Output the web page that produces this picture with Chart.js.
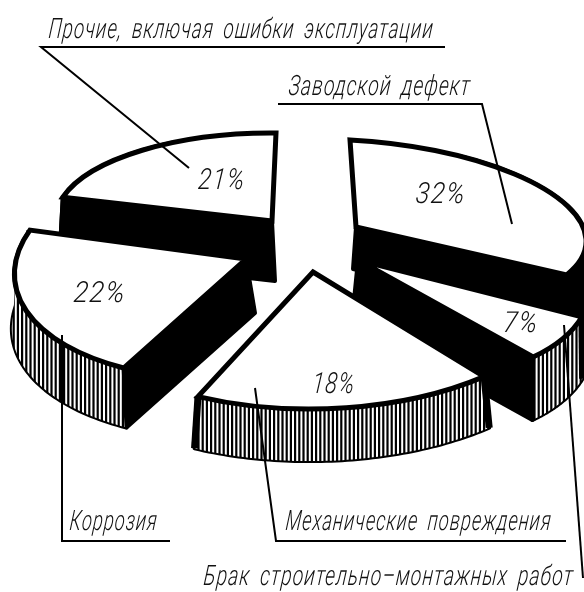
<!DOCTYPE html>
<html>
<head>
<meta charset="utf-8">
<title>Причины отказов</title>
<script src="https://cdn.jsdelivr.net/npm/chart.js@4"></script>
<style>
html,body{margin:0;padding:0;background:#fff}
canvas{display:block}
</style>
</head>
<body>
<canvas id="pie" width="584" height="592"></canvas>
<script>
const categories = ['Заводской дефект','Брак строительно–монтажных работ','Механические повреждения','Коррозия','Прочие, включая ошибки эксплуатации']
const shares = [32,7,18,22,21]
// back to front
const drawOrder = [4,0,1,3,2]

// each slice is pulled away from the centre and has its own tilt, as on a drawing in perspective
// a,b,c,d map the flat circle to the sheet (radius 1), wall = how the lower face sits under the top one
const sliceViews = [
  { ox:64,  oy:-69, a:230, b:12,   c:6,    d:87,  wallX:-3, wallY:42, grow:1.06, striped:false },
  { ox:66,  oy:-36, a:230, b:6,    c:37,   d:121, wallX:-6, wallY:60, grow:1.03, striped:true },
  { ox:21,  oy:-24, a:269, b:-1.5, c:-0.5, d:137, wallX:0,  wallY:48, grow:1.03, striped:true },
  { ox:-46, oy:-37, a:230, b:-1,   c:-27,  d:120, wallX:9,  wallY:54, grow:1.05, striped:true },
  { ox:-20, oy:-75, a:217, b:2,    c:-4,   d:88,  wallX:3,  wallY:60, grow:1.03, striped:false }
]
const percentSpots = [
  { x:440, y:203, w:50 }, { x:520, y:332, w:35 }, { x:333, y:393, w:43 }, { x:99, y:302, w:52 }, { x:221, y:189, w:47 }
]
// [text index, left, baseline, width]
const captions = [
  [4,48,38,385],[0,288,95,182],[3,69,530,88],[2,285,530,266],[1,203,585,370]
]
const leaders = [
  [[445,47],[41,47],[189,168]],
  [[278,104],[482,104],[512,224]],
  [[62,335],[62,541],[170,541]],
  [[255,388],[276,541],[566,541]],
  [[564,325],[583,578]]
]

function stripes(){
  const c = document.createElement('canvas')
  c.width = 21; c.height = 4
  const x = c.getContext('2d')
  x.fillStyle = '#fff'; x.fillRect(0,0,21,4)
  x.fillStyle = '#000'
  for(let n=0;n<5;n++) x.fillRect(n*4.2,0,2.2,4)
  return c
}

function mapper(arc, v, lower){
  const k = lower ? v.grow : 1
  const cx = arc.x+v.ox+(lower ? v.wallX : 0)
  const cy = arc.y+v.oy+(lower ? v.wallY : 0)
  const R = arc.outerRadius
  return (ang,r=R)=>{
    const u = Math.cos(ang)*r/R, w = Math.sin(ang)*r/R
    return [cx+k*(v.a*u+v.c*w), cy+k*(v.b*u+v.d*w)]
  }
}

function placeCtx(ctx, arc, v){
  const R = arc.outerRadius
  ctx.translate(arc.x+v.ox, arc.y+v.oy)
  ctx.transform(v.a/R, v.b/R, v.c/R, v.d/R, 0, 0)
  ctx.translate(-arc.x, -arc.y)
}

function nearVertical(top, ang){
  return Math.abs(top(ang)[0]-top(ang,0)[0]) < 30
}

// a cut face shows only if the slice lies above its edge on the sheet
function cutFaceShows(top, ang, midAng){
  const o = top(ang,0), p = top(ang), m = top(midAng)
  if(nearVertical(top,ang)) return false
  const lineY = o[1]+(p[1]-o[1])*(m[0]-o[0])/(p[0]-o[0])
  return m[1] < lineY
}

function bandPath(ctx, top, low, from, to){
  const steps = 60
  ctx.beginPath()
  for(let n=0;n<=steps;n++){ const p = top(from+(to-from)*n/steps); n ? ctx.lineTo(...p) : ctx.moveTo(...p) }
  for(let n=steps;n>=0;n--){ ctx.lineTo(...low(from+(to-from)*n/steps)) }
  ctx.closePath()
}

function fitText(ctx, str, x, y, w, size){
  ctx.save()
  ctx.font = `italic 300 ${size}px Roboto`
  ctx.letterSpacing = '1.5px'
  ctx.wordSpacing = '6px'
  ctx.textAlign = 'left'
  ctx.textBaseline = 'alphabetic'
  ctx.fillStyle = '#111'
  const m = ctx.measureText(str).width
  ctx.transform(w/m,0,-0.1,1,x,y)
  ctx.fillText(str,0,0)
  ctx.restore()
}

const solidPie = {
  id:'solidPie',
  beforeDatasetDraw(chart){
    const ctx = chart.ctx
    const arcs = chart.getDatasetMeta(0).data
    const hatch = ctx.createPattern(stripes(),'repeat')
    drawOrder.forEach(i=>{
      const arc = arcs[i], v = sliceViews[i]
      const top = mapper(arc,v,false), low = mapper(arc,v,true)
      const s = arc.startAngle, e = arc.endAngle, mid = (s+e)/2
      ctx.strokeStyle = '#000'; ctx.lineWidth = 4; ctx.lineJoin = 'round'
      ctx.fillStyle = '#000'
      // whole curved wall in black, the part turned to the viewer gets the stripes
      const bs = nearVertical(top,s) ? s+0.5 : s
      const be = nearVertical(top,e) ? e-0.5 : e
      bandPath(ctx,top,low,bs,be)
      ctx.fill(); ctx.stroke()
      const hs = Math.max(s,0), he = Math.min(e,Math.PI)
      if(v.striped && he > hs){
        bandPath(ctx,top,low,hs,he)
        ctx.fillStyle = hatch
        ctx.fill()
        ctx.fillStyle = '#000'
      }
      ;[s,e].forEach(ang=>{
        if(nearVertical(top,ang)) return
        if(cutFaceShows(top,ang,mid)){
          ctx.beginPath()
          ctx.moveTo(...top(ang,0)); ctx.lineTo(...top(ang)); ctx.lineTo(...low(ang)); ctx.lineTo(...low(ang,0))
          ctx.closePath(); ctx.fill(); ctx.stroke()
        } else {
          // hidden cut: only its end closes the band
          ctx.save()
          ctx.lineWidth = 7
          ctx.beginPath(); ctx.moveTo(...top(ang)); ctx.lineTo(...low(ang)); ctx.stroke()
          ctx.restore()
        }
      })
      // top face: fill by the arc element, outline with an even pen
      ctx.save()
      placeCtx(ctx,arc,v)
      arc.draw(ctx)
      ctx.beginPath()
      ctx.moveTo(arc.x,arc.y)
      ctx.arc(arc.x,arc.y,arc.outerRadius,s,e)
      ctx.closePath()
      ctx.restore()
      ctx.lineWidth = 5
      ctx.lineJoin = 'miter'
      ctx.miterLimit = 4
      ctx.stroke()
    })
    return false
  },
  afterDraw(chart){
    const ctx = chart.ctx
    ctx.save()
    ctx.strokeStyle = '#000'; ctx.lineWidth = 2; ctx.lineJoin = 'miter'
    leaders.forEach(l=>{
      ctx.beginPath()
      l.forEach((p,n)=> n ? ctx.lineTo(p[0],p[1]) : ctx.moveTo(p[0],p[1]))
      ctx.stroke()
    })
    ctx.restore()
    percentSpots.forEach((p,i)=> fitText(ctx, shares[i]+'%', p.x-p.w/2, p.y, p.w, 29))
    captions.forEach(c=> fitText(ctx, categories[c[0]], c[1], c[2], c[3], 28))
  }
}

new Chart(document.getElementById('pie'), {
  type:'pie',
  data:{ labels:categories, datasets:[{ data:shares, backgroundColor:'#fff', borderWidth:0 }] },
  options:{
    responsive:false,
    animation:false,
    layout:{ padding:0 },
    plugins:{ legend:{ display:false }, tooltip:{ enabled:false } }
  },
  plugins:[solidPie]
})
</script>
</body>
</html>
